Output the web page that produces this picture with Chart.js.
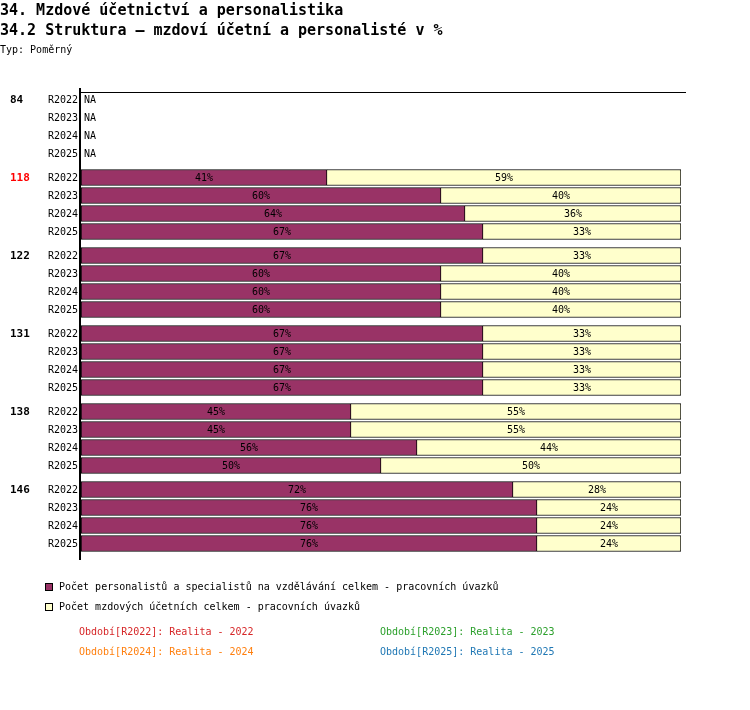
<!DOCTYPE html>
<html>
<head>
<meta charset="utf-8">
<script src="https://cdn.jsdelivr.net/npm/chart.js@4/dist/chart.umd.min.js"></script>
<style>
  body { margin: 0; background: #fff; }
  #wrap { position: relative; width: 750px; height: 710px; overflow: hidden; }
  #chart { position: absolute; left: 0; top: 0; }
  .t { position: absolute; white-space: pre; font-family: "DejaVu Sans Mono", monospace; color: #000; }
  .h1 { font-size: 15px; font-weight: bold; line-height: 20px; }
  .sm { font-size: 10px; line-height: 14px; }
  .box { position: absolute; width: 6px; height: 6px; border: 1px solid #000; }
</style>
</head>
<body>
<div id="wrap">
  <canvas id="chart" width="750" height="710"></canvas>
  <div class="t h1" style="left:0;top:0">34. Mzdové účetnictví a personalistika</div>
  <div class="t h1" style="left:0;top:20px">34.2 Struktura – mzdoví účetní a personalisté v %</div>
  <div class="t sm" style="left:0;top:43px">Typ: Poměrný</div>

  <div class="box" style="left:45px;top:583px;background:#993366"></div>
  <div class="t sm" style="left:59px;top:580px">Počet personalistů a specialistů na vzdělávání celkem - pracovních úvazků</div>
  <div class="box" style="left:45px;top:603px;background:#ffffcc"></div>
  <div class="t sm" style="left:59px;top:600px">Počet mzdových účetních celkem - pracovních úvazků</div>

  <div class="t sm" style="left:79px;top:625px;color:#d62728">Období[R2022]: Realita - 2022</div>
  <div class="t sm" style="left:380px;top:625px;color:#2ca02c">Období[R2023]: Realita - 2023</div>
  <div class="t sm" style="left:79px;top:645px;color:#ff7f0e">Období[R2024]: Realita - 2024</div>
  <div class="t sm" style="left:380px;top:645px;color:#1f77b4">Období[R2025]: Realita - 2025</div>
</div>
<script>
// groups and periods
const groups = ['84', '118', '122', '131', '138', '146'];
const groupColors = ['#000', '#ff0000', '#000', '#000', '#000', '#000'];
const periods = ['R2022', 'R2023', 'R2024', 'R2025'];

// % values per group, one entry per period (null = NA)
const personalists = [
  [null, null, null, null],
  [41, 60, 64, 67],
  [67, 60, 60, 60],
  [67, 67, 67, 67],
  [45, 45, 56, 50],
  [72, 76, 76, 76]
];
const accountants = [
  [null, null, null, null],
  [59, 40, 36, 33],
  [33, 40, 40, 40],
  [33, 33, 33, 33],
  [55, 55, 44, 50],
  [28, 24, 24, 24]
];

// row position: 4 rows per group + a third of a row as gap
const GROUP_STEP = 4 + 1 / 3;
const rowPos = (g, r) => g * GROUP_STEP + r;

function points(values) {
  const out = [];
  values.forEach((row, g) => row.forEach((v, r) => {
    if (v !== null) out.push({ x: v, y: rowPos(g, r) });
  }));
  return out;
}

const mono = '"DejaVu Sans Mono", monospace';

const labelsPlugin = {
  id: 'labels',
  afterDraw(chart) {
    const ctx = chart.ctx;
    const yScale = chart.scales.y;
    const area = chart.chartArea;
    ctx.save();

    // segment percentages
    ctx.fillStyle = '#000';
    ctx.font = '10px ' + mono;
    ctx.textAlign = 'center';
    ctx.textBaseline = 'middle';
    chart.data.datasets.forEach((ds, i) => {
      chart.getDatasetMeta(i).data.forEach((el, j) => {
        const cx = (el.x + el.base) / 2;
        ctx.fillText(ds.data[j].x + '%', cx, el.y + 1);
      });
    });

    // row and group labels
    groups.forEach((name, g) => {
      ctx.textAlign = 'left';
      ctx.font = 'bold 11px ' + mono;
      ctx.fillStyle = groupColors[g];
      ctx.fillText(name, 10, yScale.getPixelForValue(rowPos(g, 0)) + 1);
      periods.forEach((p, r) => {
        const y = yScale.getPixelForValue(rowPos(g, r)) + 1;
        ctx.font = '10px ' + mono;
        ctx.fillStyle = '#000';
        ctx.textAlign = 'right';
        ctx.fillText(p, 78, y);
        if (personalists[g][r] === null) {
          ctx.textAlign = 'left';
          ctx.fillText('NA', 84, y);
        }
      });
    });

    // axis lines
    ctx.strokeStyle = '#000';
    ctx.lineWidth = 1;
    ctx.beginPath();
    ctx.moveTo(80, area.top + 0.5);
    ctx.lineTo(686, area.top + 0.5);
    ctx.stroke();
    ctx.lineWidth = 2;
    ctx.beginPath();
    ctx.moveTo(80, area.top - 4);
    ctx.lineTo(80, area.bottom);
    ctx.stroke();
    ctx.restore();
  }
};

new Chart(document.getElementById('chart'), {
  type: 'bar',
  data: {
    datasets: [{
      label: 'Počet personalistů a specialistů na vzdělávání celkem - pracovních úvazků',
      data: points(personalists),
      backgroundColor: '#993366',
      borderColor: '#000',
      borderWidth: 1,
      borderSkipped: false,
      barThickness: 16
    }, {
      label: 'Počet mzdových účetních celkem - pracovních úvazků',
      data: points(accountants),
      backgroundColor: '#ffffcc',
      borderColor: '#000',
      borderWidth: 1,
      borderSkipped: 'start',
      barThickness: 16
    }]
  },
  options: {
    indexAxis: 'y',
    responsive: false,
    animation: false,
    layout: { padding: { left: 81, right: 69, top: 92, bottom: 150 } },
    scales: {
      x: { type: 'linear', stacked: true, min: 0, max: 100, display: false },
      y: { type: 'linear', stacked: true, reverse: true, offset: false, min: -0.4167, max: 25.5833, display: false }
    },
    plugins: { legend: { display: false }, tooltip: { enabled: false } }
  },
  plugins: [labelsPlugin]
});
</script>
</body>
</html>
